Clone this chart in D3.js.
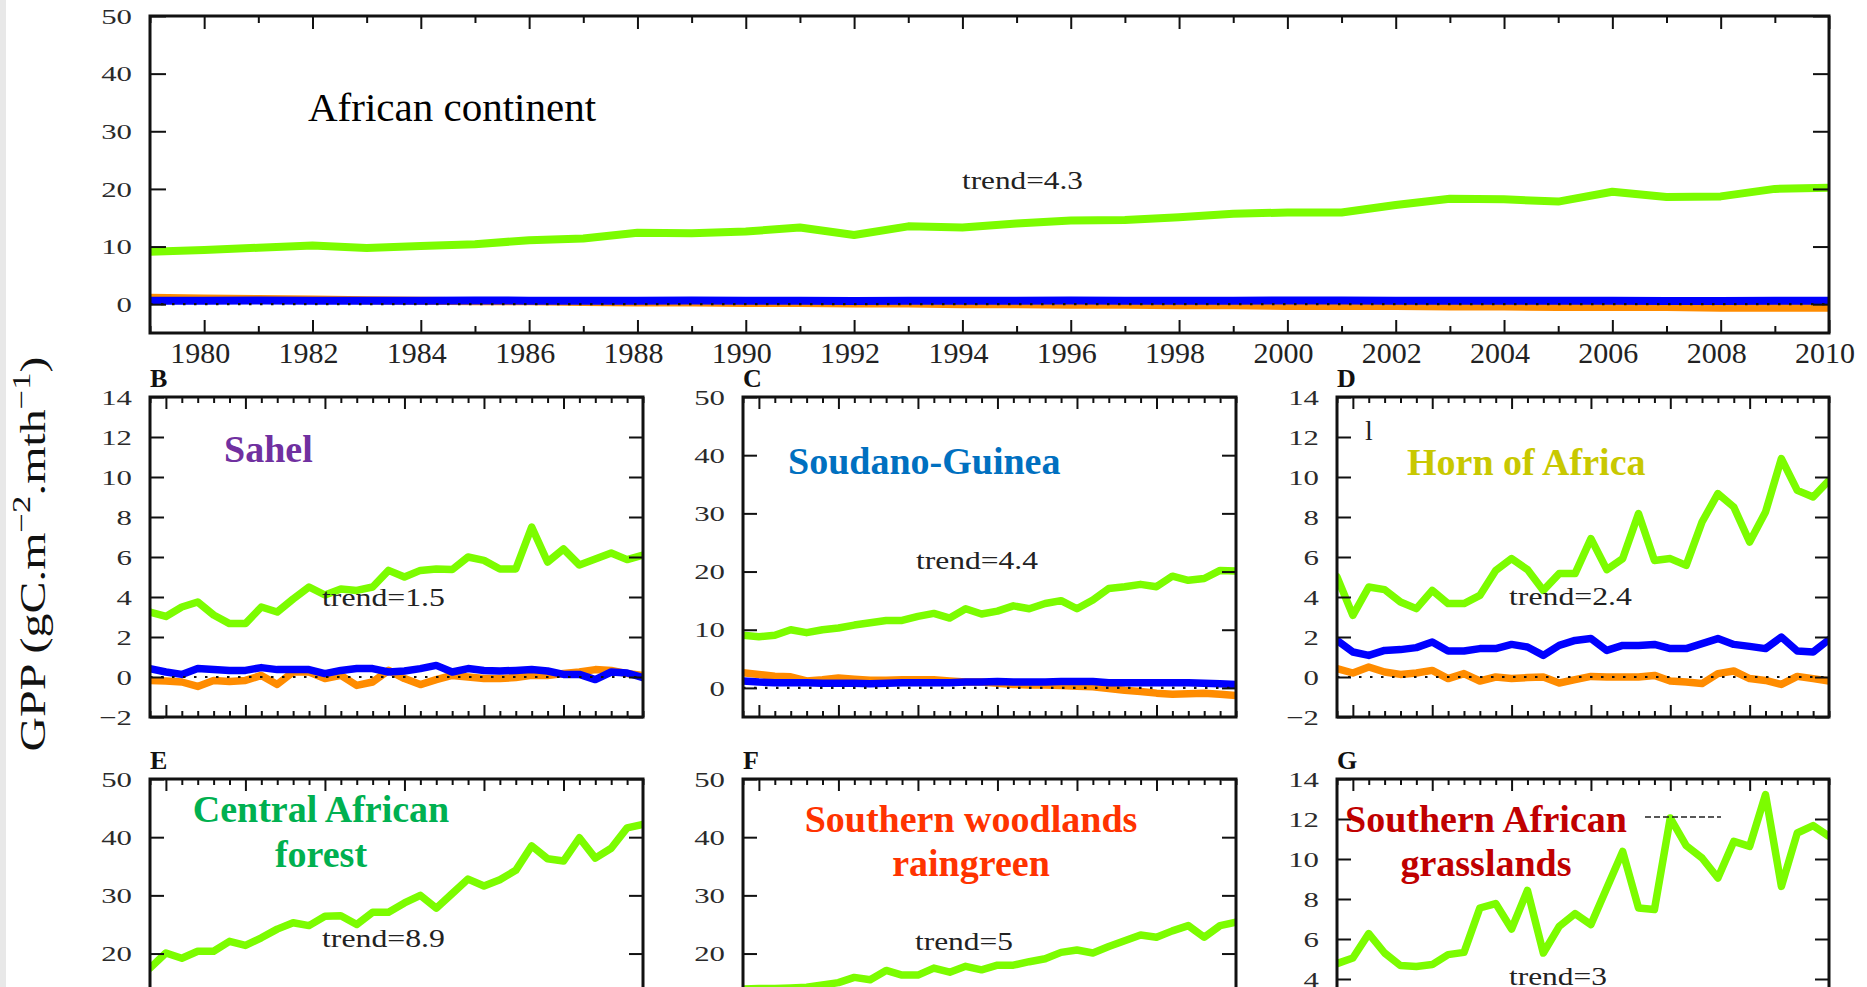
<!DOCTYPE html>
<html><head><meta charset="utf-8">
<script src="https://cdn.jsdelivr.net/npm/d3@7"></script>
<style>
html,body{margin:0;padding:0;background:#fff;overflow:hidden}
svg{display:block}
text{font-family:"Liberation Serif","Times New Roman",serif}
</style></head><body>
<svg id="chart" width="1867" height="987"></svg>
<script>
// ---------------- DATA ----------------
const years = [1979,1980,1981,1982,1983,1984,1985,1986,1987,1988,1989,1990,1991,1992,1993,1994,
               1995,1996,1997,1998,1999,2000,2001,2002,2003,2004,2005,2006,2007,2008,2009,2010];
const topYearLabels = [1980,1982,1984,1986,1988,1990,1992,1994,1996,1998,2000,2002,2004,2006,2008,2010];
const smallMajorYears = [1980,1985,1990,1995,2000,2005];
const ticksWide = [0,10,20,30,40,50];
const ticksNarrow = [-2,0,2,4,6,8,10,12,14];

// A - African continent
const africaGreen  = [9.1,9.4,9.8,10.2,9.75,10.1,10.4,11.1,11.4,12.4,12.3,12.6,13.3,12.0,13.5,13.3,14.0,14.5,14.6,15.1,15.7,15.9,15.9,17.2,18.3,18.2,17.8,19.5,18.6,18.7,20.0,20.2];
const africaBlue   = [0.6,0.6,0.65,0.6,0.6,0.6,0.65,0.6,0.6,0.6,0.65,0.6,0.6,0.55,0.6,0.6,0.6,0.65,0.6,0.6,0.6,0.65,0.65,0.6,0.6,0.6,0.6,0.6,0.55,0.55,0.6,0.6];
const africaOrange = [1.1,1.0,0.9,0.8,0.7,0.6,0.5,0.5,0.4,0.3,0.3,0.2,0.2,0.1,0.1,0.0,0.0,-0.1,-0.1,-0.2,-0.2,-0.3,-0.3,-0.3,-0.4,-0.4,-0.5,-0.5,-0.5,-0.6,-0.6,-0.6];
// B - Sahel
const sahelGreen  = [3.25,3.03,3.5,3.75,3.1,2.67,2.67,3.5,3.25,3.9,4.5,4.1,4.4,4.33,4.5,5.33,5.0,5.33,5.4,5.37,6.0,5.83,5.4,5.4,7.5,5.75,6.4,5.6,5.9,6.2,5.87,6.1];
const sahelBlue   = [0.42,0.25,0.13,0.42,0.37,0.33,0.33,0.47,0.37,0.37,0.37,0.17,0.33,0.42,0.42,0.25,0.3,0.42,0.58,0.25,0.42,0.33,0.3,0.33,0.37,0.3,0.13,0.13,-0.13,0.25,0.2,-0.03];
const sahelOrange = [-0.17,-0.2,-0.25,-0.47,-0.17,-0.22,-0.17,0.08,-0.37,0.25,0.25,-0.08,0.08,-0.42,-0.25,0.33,-0.08,-0.38,-0.13,0.08,0.0,-0.08,-0.08,-0.03,0.08,0.08,0.17,0.25,0.37,0.33,0.17,0.08];
// C - Soudano-Guinea
const sgGreen  = [9.05,8.8,9.05,10.0,9.5,10.0,10.3,10.8,11.2,11.6,11.6,12.3,12.8,12.0,13.6,12.7,13.2,14.1,13.6,14.5,15.0,13.6,15.1,17.1,17.4,17.8,17.4,19.2,18.5,18.8,20.2,20.1];
const sgBlue   = [1.2,1.0,0.9,0.9,0.9,0.8,0.8,0.8,0.7,0.8,0.9,0.9,0.9,0.9,1.0,1.0,1.1,1.0,1.0,1.0,1.1,1.1,1.1,0.9,0.9,0.9,0.9,0.9,0.9,0.8,0.7,0.6];
const sgOrange = [2.6,2.3,2.0,1.9,1.2,1.4,1.7,1.5,1.3,1.3,1.4,1.4,1.4,1.2,1.0,1.0,0.8,0.6,0.5,0.5,0.4,0.3,0.2,-0.1,-0.4,-0.6,-0.9,-1.1,-1.0,-0.9,-1.1,-1.3];
// D - Horn of Africa
const hoaGreen  = [5.0,3.08,4.5,4.37,3.75,3.42,4.33,3.67,3.67,4.08,5.33,5.92,5.37,4.33,5.17,5.17,6.92,5.37,5.92,8.17,5.83,5.92,5.58,7.75,9.17,8.5,6.75,8.25,10.92,9.33,9.0,9.83];
const hoaBlue   = [1.83,1.25,1.08,1.33,1.37,1.47,1.75,1.3,1.3,1.42,1.42,1.63,1.5,1.08,1.58,1.83,1.92,1.33,1.58,1.58,1.63,1.42,1.42,1.67,1.92,1.63,1.53,1.42,2.0,1.3,1.25,1.87];
const hoaOrange = [0.42,0.2,0.5,0.25,0.13,0.2,0.33,-0.08,0.17,-0.2,0.0,-0.08,-0.03,0.0,-0.3,-0.13,0.03,0.0,0.0,0.0,0.08,-0.2,-0.25,-0.33,0.17,0.3,-0.08,-0.17,-0.37,0.03,-0.08,-0.2];
// E - Central African forest
const cafGreen = [17.5,20.1,19.2,20.4,20.4,22.1,21.4,22.7,24.2,25.3,24.8,26.4,26.5,25.0,27.1,27.1,28.7,30.0,27.8,30.3,32.8,31.6,32.7,34.3,38.5,36.3,35.9,39.9,36.4,38.1,41.6,42.2];
// F - Southern woodlands raingreen
const swGreen = [13.9,14.0,14.0,14.1,14.2,14.6,15.0,15.9,15.5,17.1,16.3,16.3,17.5,16.8,17.8,17.2,18.0,18.0,18.6,19.1,20.2,20.6,20.1,21.2,22.2,23.2,22.8,23.9,24.8,22.8,24.8,25.4];
// G - Southern African grasslands
const sagGreen = [4.77,5.05,6.27,5.3,4.67,4.63,4.72,5.22,5.33,7.55,7.77,6.5,8.43,5.3,6.63,7.27,6.72,8.55,10.38,7.55,7.47,12.05,10.67,10.05,9.05,10.88,10.63,13.22,8.63,11.3,11.67,11.13];

const panelLetters = ["", "B", "C", "D", "E", "F", "G"];
const trendLabels = ["trend=4.3","trend=1.5","trend=4.4","trend=2.4","trend=8.9","trend=5","trend=3"];
const regionNames = [["African continent"],["Sahel"],["Soudano-Guinea"],["Horn of Africa"],
                     ["Central African","forest"],["Southern woodlands","raingreen"],["Southern African","grasslands"]];
const regionColors = ["#000000","#7030a0","#0070c0","#c8c800","#00b050","#ff3300","#c00000"];
const seriesColors = {green:"#7cfc00", blue:"#0000ff", orange:"#ff8c00"};

// ---------------- LAYOUT ----------------
const W = 1867, H = 987;
const svg = d3.select("#chart");
svg.append("rect").attr("x",0).attr("y",0).attr("width",W).attr("height",H).attr("fill","#fff");
svg.append("rect").attr("x",0).attr("y",0).attr("width",6).attr("height",H).attr("fill","#e8e8e8");

const colX = [[150,643],[743,1236],[1337,1829]];
const row2 = [397,717], row3 = [779,1099];

const panels = [
  {x:[150,1829], y:[16,333], dom:[-5,50], yt:ticksWide, big:true,
   series:[africaGreen, africaOrange, africaBlue],
   label:{x:308, y:121, size:41, bold:false, anchor:"start", lh:0},
   trend:{x:962, y:189, w:121}},
  {x:colX[0], y:row2, dom:[-2,14], yt:ticksNarrow, series:[sahelGreen, sahelOrange, sahelBlue],
   label:{x:224, y:462, size:38, bold:true, anchor:"start"}, trend:{x:322, y:606, w:123}},
  {x:colX[1], y:row2, dom:[-5,50], yt:ticksWide, series:[sgGreen, sgOrange, sgBlue],
   label:{x:788, y:474, size:38, bold:true, anchor:"start"}, trend:{x:916, y:569, w:122}},
  {x:colX[2], y:row2, dom:[-2,14], yt:ticksNarrow, series:[hoaGreen, hoaOrange, hoaBlue],
   label:{x:1407, y:475, size:38, bold:true, anchor:"start"}, trend:{x:1509, y:605, w:123}},
  {x:colX[0], y:row3, dom:[-5,50], yt:ticksWide, series:[cafGreen, null, null],
   label:{x:321, y:822, size:38, bold:true, anchor:"middle", lh:45}, trend:{x:322, y:947, w:123}},
  {x:colX[1], y:row3, dom:[-5,50], yt:ticksWide, series:[swGreen, null, null],
   label:{x:971, y:832, size:38, bold:true, anchor:"middle", lh:44}, trend:{x:915, y:950, w:98}},
  {x:colX[2], y:row3, dom:[-2,14], yt:ticksNarrow, series:[sagGreen, null, null],
   label:{x:1486, y:832, size:38, bold:true, anchor:"middle", lh:44}, trend:{x:1509, y:985, w:98}}
];

const seriesOrder = ["green","orange","blue"];
const minus = v => v < 0 ? "\u2212" + Math.abs(v) : String(v);

function stretched(g, str, x, y, size, width, anchor, fill) {
  const t = g.append("text").attr("font-size", size).attr("fill", fill || "#222")
    .attr("text-anchor", anchor || "start").text(str);
  const len = t.node().getComputedTextLength();
  t.attr("transform", `translate(${x},${y}) scale(${width / len},1)`);
  return t;
}

panels.forEach((p, i) => {
  const g = svg.append("g");
  const x = d3.scaleLinear().domain([1979, 2010]).range(p.x);
  const y = d3.scaleLinear().domain(p.dom).range([p.y[1], p.y[0]]);
  const clipId = "clip" + i;
  svg.append("clipPath").attr("id", clipId).append("rect")
    .attr("x", p.x[0]).attr("y", p.y[0]).attr("width", p.x[1]-p.x[0]).attr("height", p.y[1]-p.y[0]);

  const lines = g.append("g").attr("clip-path", `url(#${clipId})`);
  const lineGen = d3.line().x((d, k) => x(years[k])).y(d => y(d));
  p.series.forEach((s, k) => {
    if (!s) return;
    lines.append("path").datum(s).attr("d", lineGen)
      .attr("fill", "none").attr("stroke", seriesColors[seriesOrder[k]])
      .attr("stroke-width", p.big ? 8 : 7.5).attr("stroke-linejoin", "round").attr("stroke-linecap", "round");
  });
  lines.append("line").attr("x1", p.x[0]).attr("x2", p.x[1]).attr("y1", y(0)).attr("y2", y(0))
    .attr("stroke", "#111").attr("stroke-width", 2.2).attr("stroke-dasharray", "2.5,8.5");

  const majX = p.big ? topYearLabels : smallMajorYears;
  const minX = years.filter(v => !majX.includes(v));
  const LM = p.big ? 13 : 12, Lm = p.big ? 7 : 6, LY = p.big ? 16 : 14;
  const axes = g.append("g");
  const addAxis = (axis, tx, ty) => {
    const a = axes.append("g").attr("transform", `translate(${tx},${ty})`).call(axis);
    a.select(".domain").remove();
    a.selectAll("line").attr("stroke", "#111").attr("stroke-width", 2);
    a.selectAll("text").remove();
  };
  addAxis(d3.axisBottom(x).tickValues(majX).tickSize(-LM).tickFormat(""), 0, p.y[1]);
  addAxis(d3.axisBottom(x).tickValues(minX).tickSize(-Lm).tickFormat(""), 0, p.y[1]);
  addAxis(d3.axisTop(x).tickValues(majX).tickSize(-LM).tickFormat(""), 0, p.y[0]);
  addAxis(d3.axisTop(x).tickValues(minX).tickSize(-Lm).tickFormat(""), 0, p.y[0]);
  addAxis(d3.axisLeft(y).tickValues(p.yt).tickSize(-LY).tickFormat(""), p.x[0], 0);
  addAxis(d3.axisRight(y).tickValues(p.yt).tickSize(-LY).tickFormat(""), p.x[1], 0);

  g.append("rect").attr("x", p.x[0]).attr("y", p.y[0]).attr("width", p.x[1]-p.x[0]).attr("height", p.y[1]-p.y[0])
    .attr("fill", "none").attr("stroke", "#111").attr("stroke-width", 3);

  // y tick labels (only those that fall inside the picture)
  p.yt.filter(v => y(v) < H + 5).forEach(v => {
    g.append("text").attr("font-size", 22).attr("fill", "#2a2a2a").attr("text-anchor", "end")
      .attr("dy", "0.35em")
      .attr("transform", `translate(${p.x[0]-18},${y(v)}) scale(1.4,1)`).text(minus(v));
  });

  if (p.big) {
    topYearLabels.forEach(v => {
      g.append("text").attr("font-size", 30).attr("fill", "#222").attr("text-anchor", "middle")
        .attr("x", x(v) - 4).attr("y", 363).text(v);
    });
  }

  if (panelLetters[i]) {
    g.append("text").attr("font-size", 26).attr("font-weight", "bold").attr("fill", "#111")
      .attr("x", p.x[0]).attr("y", p.y[0] - 10).text(panelLetters[i]);
  }

  regionNames[i].forEach((nm, k) => {
    g.append("text").attr("font-size", p.label.size).attr("font-weight", p.label.bold ? "bold" : "normal")
      .attr("fill", regionColors[i]).attr("text-anchor", p.label.anchor)
      .attr("x", p.label.x).attr("y", p.label.y + k * (p.label.lh || 0)).text(nm);
  });

  stretched(g, trendLabels[i], p.trend.x, p.trend.y, 25, p.trend.w, "start", "#222");
});

// stray marks present in the original figure
svg.append("text").attr("font-size", 28).attr("fill", "#222").attr("x", 1365).attr("y", 440).text("l");
svg.append("line").attr("x1", 1645).attr("x2", 1721).attr("y1", 817).attr("y2", 817)
  .attr("stroke", "#222").attr("stroke-width", 1.6).attr("stroke-dasharray", "6,3");

// y axis title
const yt = svg.append("text").attr("font-size", 36).attr("fill", "#111").attr("text-anchor", "middle");
yt.append("tspan").text("GPP (gC.m");
yt.append("tspan").attr("font-size", 26).attr("dy", -15).text("\u22122");
yt.append("tspan").attr("dy", 15).text(".mth");
yt.append("tspan").attr("font-size", 26).attr("dy", -15).text("\u22121");
yt.append("tspan").attr("dy", 15).text(")");
const ylen = yt.node().getComputedTextLength();
yt.attr("transform", `translate(45,554) rotate(-90) scale(${395 / ylen},1)`);
</script>
</body></html>
